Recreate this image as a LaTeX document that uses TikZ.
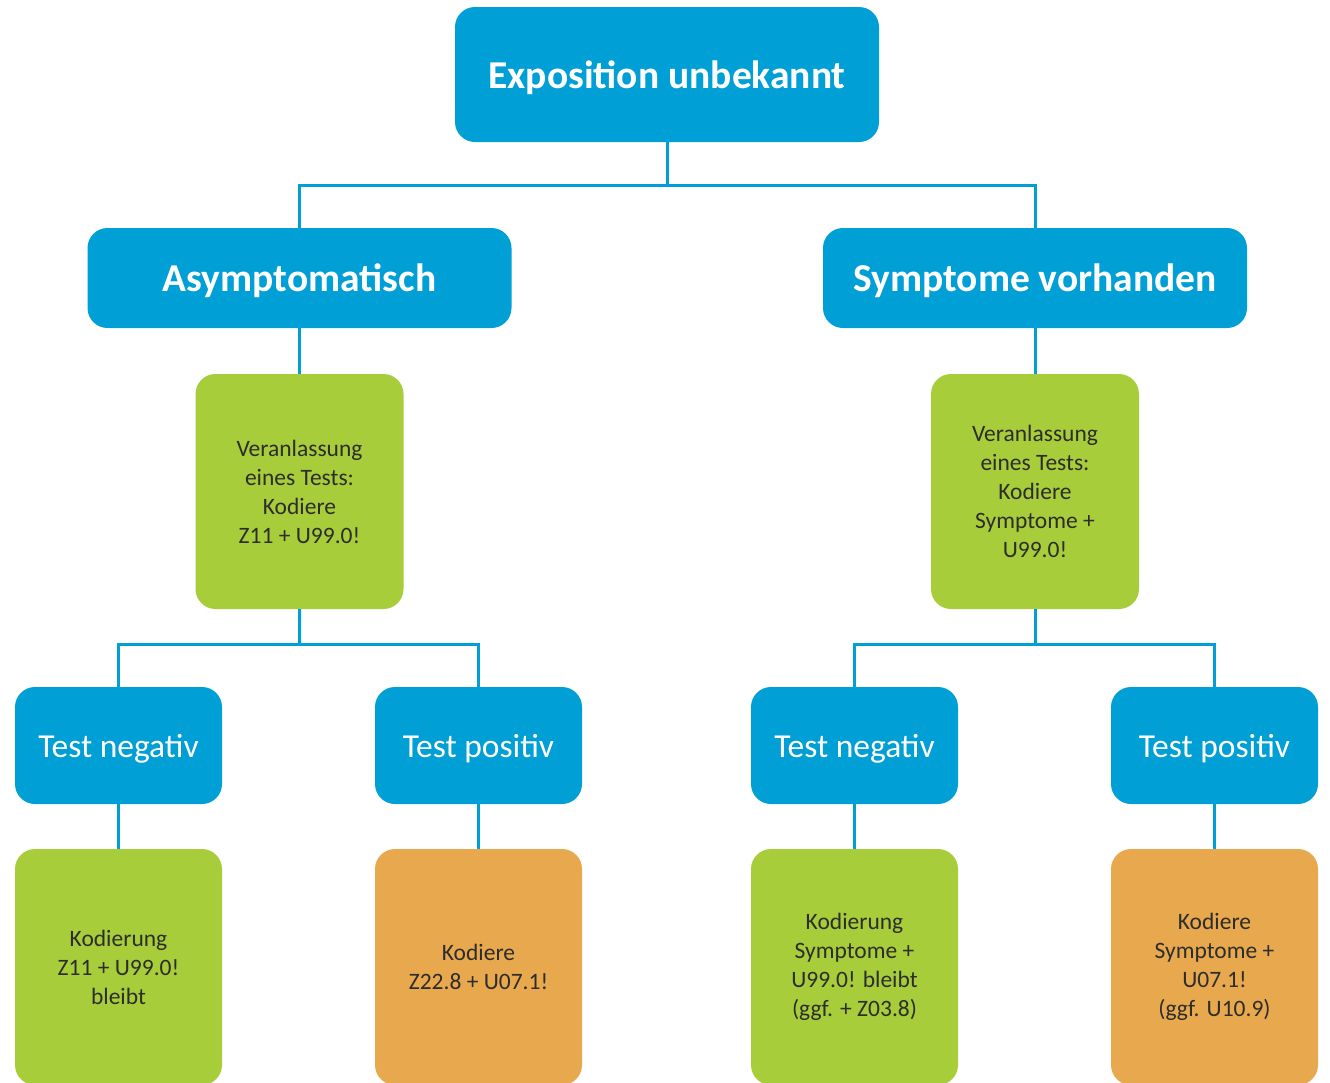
\documentclass[tikz,border=0pt]{standalone}
\usepackage{fontspec}
\setmainfont{Carlito}
\usetikzlibrary{calc}
\definecolor{cblue}{RGB}{0,159,213}
\definecolor{cgreen}{RGB}{168,205,58}
\definecolor{corange}{RGB}{232,168,77}
\definecolor{ctext}{RGB}{45,45,45}
\tikzset{
  box/.style={rectangle, rounded corners=20pt, inner sep=0pt, align=center},
  head/.style={box, fill=cblue, text=white, minimum width=424pt, text depth=0pt, font=\bfseries\fontsize{39.5}{46}\selectfont},
  testbox/.style={box, fill=cblue, text=white, minimum width=207pt, minimum height=117pt, text depth=0pt, font=\fontsize{33.5}{40}\selectfont},
  greenbox/.style={box, fill=cgreen, text=ctext, font=\fontsize{23.5}{29}\selectfont},
  orangebox/.style={box, fill=corange, text=ctext, font=\fontsize{23.5}{29}\selectfont},
  conn/.style={draw=cblue, line width=3pt}
}
\begin{document}
\begin{tikzpicture}[x=1pt,y=-1pt]
\useasboundingbox (0,0) rectangle (1330,1082);
\begin{scope}
\clip (0,0) rectangle (1330,1082);
% level 0
\node[head, minimum height=135pt] (top) at (667,74.5) {Exposition unbekannt};
% level 1
\node[head, minimum height=100pt] (asym) at (299.5,278) {Asymptomatisch};
\node[head, minimum height=100pt] (symp) at (1035,278) {Symptome vorhanden};
% level 2
\node[greenbox, minimum width=208pt, minimum height=235pt] (vl) at (299.5,491.5) {Veranlassung\\eines Tests:\\Kodiere\\Z11 + U99.0!};
\node[greenbox, minimum width=208pt, minimum height=235pt] (vr) at (1035,491.5) {Veranlassung\\eines Tests:\\Kodiere\\Symptome +\\U99.0!};
% level 3
\node[testbox] (tnl) at (118.5,745.5) {Test negativ};
\node[testbox] (tpl) at (478.5,745.5) {Test positiv};
\node[testbox] (tnr) at (854.5,745.5) {Test negativ};
\node[testbox] (tpr) at (1214.5,745.5) {Test positiv};
% level 4
\node[greenbox, minimum width=207pt, minimum height=236pt] (knl) at (118.5,967) {Kodierung\\Z11 + U99.0!\\bleibt};
\node[orangebox, minimum width=207pt, minimum height=236pt] (kpl) at (478.5,967) {Kodiere\\Z22.8 + U07.1!};
\node[greenbox, minimum width=207pt, minimum height=236pt] (knr) at (854.5,967) {Kodierung\\Symptome +\\U99.0! bleibt\\(ggf. + Z03.8)};
\node[orangebox, minimum width=207pt, minimum height=236pt] (kpr) at (1214.5,967) {Kodiere\\Symptome +\\U07.1!\\(ggf. U10.9)};
\end{scope}
% connectors
\coordinate (j0) at ($(top.south)!0.5!(top.south |- asym.north)$);
\draw[conn] (top.south) -- (j0);
\draw[conn] (asym.north) |- (j0) -| (symp.north);
\draw[conn] (asym.south) -- (vl.north);
\draw[conn] (symp.south) -- (vr.north);
\coordinate (jl) at ($(vl.south)!0.46!(vl.south |- tnl.north)$);
\draw[conn] (vl.south) -- (jl);
\draw[conn] (tnl.north) |- (jl) -| (tpl.north);
\coordinate (jr) at ($(vr.south)!0.46!(vr.south |- tnr.north)$);
\draw[conn] (vr.south) -- (jr);
\draw[conn] (tnr.north) |- (jr) -| (tpr.north);
\draw[conn] (tnl.south) -- (knl.north);
\draw[conn] (tpl.south) -- (kpl.north);
\draw[conn] (tnr.south) -- (knr.north);
\draw[conn] (tpr.south) -- (kpr.north);
\end{tikzpicture}
\end{document}
